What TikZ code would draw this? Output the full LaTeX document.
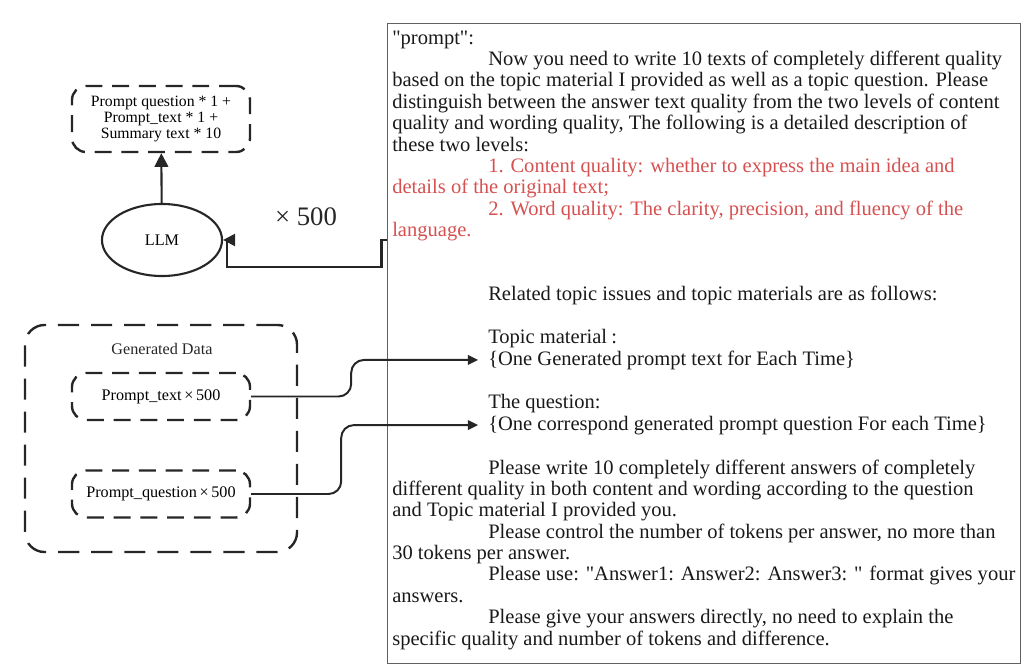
\documentclass[tikz,border=0pt]{standalone}
\usepackage{fontspec}
\setmainfont{Liberation Serif}
\usetikzlibrary{arrows.meta,shapes.geometric}
\definecolor{inkgray}{RGB}{38,38,38}
\definecolor{promptred}{RGB}{214,80,80}
\tikzset{
  dashbox/.style={draw=inkgray, line width=1.7pt, dash pattern=on 12pt off 7pt, rounded corners=10pt, align=center, inner sep=2pt, font=\fontsize{11.5pt}{12pt}\selectfont},
  llmnode/.style={ellipse, draw=inkgray, line width=1.5pt, minimum width=3cm, minimum height=1.8cm, inner sep=0pt, font=\fontsize{11.5pt}{12pt}\selectfont},
  frame/.style={draw=black!62, line width=0.7pt, inner sep=0pt},
  arrow/.style={-{Triangle[length=3.4mm,width=3.4mm]}, line width=1.5pt, draw=inkgray},
  thinarrow/.style={-{Triangle[length=2.6mm,width=2.4mm]}, line width=1.4pt, draw=inkgray, rounded corners=9pt, shorten >=7pt},
  backarrow/.style={-{Triangle[length=3mm,width=3mm]}, line width=1.6pt, draw=inkgray}
}
\begin{document}
\begin{tikzpicture}[x=0.025cm, y=-0.025cm,
  ptxt/.style={anchor=base west, align=left, inner sep=0pt, text=black!90, font=\fontsize{14.6pt}{15.2pt}\selectfont},
  lbl/.style={font=\fontsize{11.5pt}{12pt}\selectfont, text=inkgray}
]
\useasboundingbox (0,0) rectangle (1024,671);
% left column
\node[dashbox, minimum width=4.45cm, minimum height=1.65cm, font=\fontsize{11.2pt}{11.3pt}\selectfont] (summ) at (161,119)
  {Prompt question * 1 +\\Prompt\_text * 1 +\\Summary text * 10};
\node[llmnode] (llm) at (162,240) {LLM};
\node[font=\fontsize{19pt}{20pt}\selectfont, text=inkgray] (times) at (306,217) {× 500};
\node[dashbox, rounded corners=14pt, dash pattern=on 15pt off 8.5pt, minimum width=6.8cm, minimum height=5.675cm] (gen) at (161,438.5) {};
\node[lbl] (genlbl) at (162,349) {Generated Data};
\node[dashbox, minimum width=4.45cm, minimum height=1.175cm] (ptext) at (161,396.5) {Prompt\_text\,×\,500};
\node[dashbox, minimum width=4.45cm, minimum height=1.175cm] (pquest) at (161,494) {Prompt\_question\,×\,500};
% prompt frame (multi-line texts sit on their last baseline)
\node[frame, minimum width=15.8cm, minimum height=15.975cm] (prompt) at (704,343.5) {};
\node[ptxt] (ptop) at (392,236.5) {\textquotedbl prompt\textquotedbl:\\
  \hspace*{2.4cm}Now you need to write 10 texts of completely different quality\\
  based on the topic material I provided as well as a topic question. Please\\
  distinguish between the answer text quality from the two levels of content\\
  quality and wording quality, The following is a detailed description of\\
  these two levels:\\
  \textcolor{promptred}{\hspace*{2.4cm}1. Content quality: whether to express the main idea and}\\
  \textcolor{promptred}{details of the original text;}\\
  \textcolor{promptred}{\hspace*{2.4cm}2. Word quality: The clarity, precision, and fluency of the}\\
  \textcolor{promptred}{language.}};
\node[ptxt] (prel) at (488,300.5) {Related topic issues and topic materials are as follows:};
\node[ptxt] (pmatlbl) at (488,343.5) {Topic material\hspace{3pt}:};
\node[ptxt] (pmat) at (488,365) {\{One Generated prompt text for Each Time\}};
\node[ptxt] (pqlbl) at (488,408.5) {The question:};
\node[ptxt] (pq) at (488,430) {\{One correspond generated prompt question For each Time\}};
\node[ptxt] (pbot) at (392,645) {\hspace*{2.4cm}Please write 10 completely different answers of completely\\
  different quality in both content and wording according to the question\\
  and Topic material I provided you.\\
  \hspace*{2.4cm}Please control the number of tokens per answer, no more than\\
  30 tokens per answer.\\
  \hspace*{2.4cm}Please use: \textquotedbl Answer1: Answer2: Answer3: \textquotedbl{} format gives your\\
  answers.\\
  \hspace*{2.4cm}Please give your answers directly, no need to explain the\\
  specific quality and number of tokens and difference.};
% connectors
\draw[arrow] (llm) -- (summ);
\draw[backarrow] (prompt.west |- llm.east) -- ++(-6,0) -- ++(0,27) -| ([xshift=3pt]llm.east) -- (llm.east);
\draw[thinarrow] (ptext.east) -- ++(100,0) |- (pmat.west);
\draw[thinarrow] (pquest.east) -- ++(90,0) |- (pq.west);
\end{tikzpicture}
\end{document}
